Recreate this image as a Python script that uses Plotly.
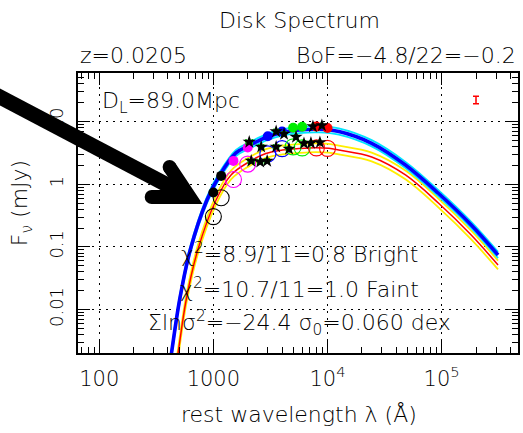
import plotly.graph_objects as go

# ---- model curves: rest wavelength (Angstrom) vs F_nu (mJy) ----
bright_wave = [400, 430, 506, 627, 879, 1140, 1578, 2062, 2960, 4000, 5625, 8410,
               12570, 24380, 48200, 93600, 181600, 312000]
bright_flux = [0.000814, 0.00204, 0.0143, 0.0896, 0.562, 1.41, 3.16, 4.16, 5.68, 6.70,
               7.35, 7.54, 6.95, 4.51, 2.03, 0.719, 0.2245, 0.0745]
faint_wave = [455, 491, 578, 730, 1056, 1428, 2062, 2884, 4024, 5625, 7871, 10280,
              12570, 24380, 48200, 93600, 181600, 312000]
faint_flux = [0.000814, 0.00204, 0.0143, 0.0896, 0.562, 1.41, 2.29, 3.10, 3.52, 3.72,
              3.84, 3.75, 3.52, 2.73, 1.41, 0.503, 0.155, 0.0516]
bright_band_dex = 0.05   # half-width of the cyan envelope
faint_band_dex = 0.07    # half-width of the yellow envelope

# ---- photometry ----
phot_wave = [1000, 1170, 1500, 2000, 3000, 4000, 5000, 6000, 8000, 10000]
phot_colors = ["black", "black", "#ff00ff", "#ff00ff", "#0000ff", "#0000ff",
               "#00ee00", "#00ee00", "#ff0000", "#ff0000"]
bright_obs = [0.738, 1.36, 2.36, 3.85, 5.85, 6.93, 8.00, 8.26, 8.32, 7.88]
faint_obs = [0.305, 0.61, 1.19, 2.10, 3.05, 3.70, 3.95, 3.81, 3.81, 3.74]

# ---- spectral points (stars) with wavelength half-ranges ----
star_wave = [2062, 2624, 3548, 4162, 5300, 7452, 8930,
             3548, 4603, 6222, 7160, 8580,
             2147, 2571, 2960]
star_flux = [4.73, 3.94, 6.95, 6.34, 5.68, 8.35, 8.67,
             3.94, 3.66, 4.48, 4.56, 4.65,
             2.35, 2.27, 2.35]
star_halfwidth = [130, 130, 150, 150, 150, 150, 150,
                  180, 180, 150, 150, 150,
                  130, 130, 130]

# ---- typical error ----
err_wave = [2.0e5]
err_flux = [22.1]
sigma0_dex = 0.060

fig = go.Figure()

def scaled(vals, dex):
    return [v * 10 ** dex for v in vals]

# envelopes first, then the best fits
for w, f, band, c in [(faint_wave, faint_flux, faint_band_dex, "#ffee00"),
                      (bright_wave, bright_flux, bright_band_dex, "#00e5ff")]:
    for s in (1, -1):
        fig.add_trace(go.Scatter(x=w, y=scaled(f, s * band), mode="lines",
                                 line=dict(color=c, width=1.8, shape="spline"),
                                 hoverinfo="skip"))
fig.add_trace(go.Scatter(x=faint_wave, y=faint_flux, mode="lines",
                         line=dict(color="#ff0000", width=1.5, shape="spline")))
fig.add_trace(go.Scatter(x=bright_wave, y=bright_flux, mode="lines",
                         line=dict(color="#0000ff", width=3.6, shape="spline")))

# faint state: open circles
fig.add_trace(go.Scatter(x=phot_wave, y=faint_obs, mode="markers",
                         marker=dict(symbol="circle-open", size=16, color=phot_colors,
                                     line=dict(width=1.1, color=phot_colors))))
# bright state: filled circles
fig.add_trace(go.Scatter(x=phot_wave, y=bright_obs, mode="markers",
                         marker=dict(symbol="circle", size=10, color=phot_colors,
                                     line=dict(width=0))))
# stars with green wavelength bars
fig.add_trace(go.Scatter(x=star_wave, y=star_flux, mode="markers",
                         marker=dict(symbol="star", size=10, color="black",
                                     line=dict(width=0)),
                         error_x=dict(type="data", array=star_halfwidth, color="#00dd00",
                                      thickness=1.5, width=3)))
# typical error bar
up = [f * (10 ** sigma0_dex - 1) for f in err_flux]
dn = [f * (1 - 10 ** -sigma0_dex) for f in err_flux]
fig.add_trace(go.Scatter(x=err_wave, y=err_flux, mode="markers",
                         marker=dict(size=1, color="red"),
                         error_y=dict(type="data", symmetric=False, array=up, arrayminus=dn,
                                      color="red", thickness=1.5, width=3)))

font = "DejaVu Sans"
weight = 300
x_minor = [m * 10 ** d for d in range(1, 6) for m in range(2, 10)]
y_minor = [m * 10 ** d for d in range(-3, 2) for m in range(2, 10)]

axis_common = dict(type="log", showline=True, linecolor="black", linewidth=1.6,
                   mirror="allticks", ticks="inside", ticklen=12, tickwidth=1.2,
                   tickcolor="black", showgrid=True, gridcolor="black", gridwidth=1.3,
                   griddash="2px,5px", zeroline=False, tickmode="array")

fig.update_xaxes(range=[1.814, 5.669], tickvals=[100, 1000, 1e4, 1e5],
                 ticktext=["100", "1000", "10<sup>4</sup>", "10<sup>5</sup>"],
                 tickfont=dict(family=font, size=21, color="black", weight=weight),
                 ticklabelstandoff=6,
                 minor=dict(tickmode="array", tickvals=x_minor, ticks="inside",
                            ticklen=6, tickwidth=1.2, tickcolor="black", showgrid=False),
                 **axis_common)
fig.update_yaxes(range=[-2.691, 1.775], tickvals=[0.01, 0.1, 1, 10],
                 ticktext=["0.01", "0.1", "1", "10"], tickangle=-90,
                 tickfont=dict(family=font, size=18, color="black", weight=weight),
                 ticklabelstandoff=6,
                 minor=dict(tickmode="array", tickvals=y_minor, ticks="inside",
                            ticklen=6, tickwidth=1.2, tickcolor="black", showgrid=False),
                 **axis_common)

def ann(text, x, y, size=22, xanchor="center", angle=0):
    fig.add_annotation(text=text, x=x, y=y, xref="paper", yref="paper",
                       xanchor=xanchor, yanchor="middle", showarrow=False,
                       textangle=angle,
                       font=dict(family=font, size=size, color="black", weight=weight))

ann("Disk Spectrum", 0.5023, 1.189)
ann("z=0.0205", 0.0, 1.061, xanchor="left")
ann("BoF=\u22124.8/22=\u22120.2", 1.0, 1.061, xanchor="right")
ann("D<sub>L</sub>=89.0Mpc", 0.0498, 0.893, xanchor="left")
ann("\u03c7<sup>2</sup>=8.9/11=0.8 Bright", 0.5023, 0.357)
ann("\u03c7<sup>2</sup>=10.7/11=1.0 Faint", 0.5023, 0.232)
ann("\u03a3ln\u03c3<sup>2</sup>=\u221224.4 \u03c3<sub>0</sub>=0.060 dex", 0.5023, 0.107)
ann("rest wavelength \u03bb (\u00c5)", 0.5023, -0.221)
ann("F<sub>\u03bd</sub> (mJy)", -0.1267, 0.536, angle=-90)

# pointer arrow (paper coordinates)
def P(px, py):
    return (px - 78) / 442, (353 - py) / 280

sx, sy = P(-10, 92)
ex, ey = P(183, 193)
tx, ty = P(190, 197)
ux, uy = P(170, 167)
lx, ly = P(152, 197)
fig.add_shape(type="path", xref="paper", yref="paper", layer="above",
              path=f"M{sx},{sy} L{ex},{ey}", line=dict(color="black", width=15))
fig.add_shape(type="path", xref="paper", yref="paper", layer="above",
              path=f"M{ux},{uy} L{tx},{ty} L{lx},{ly}", line=dict(color="black", width=14))
for cx, cy in [(ux, uy), (lx, ly)]:
    rx, ry = 7 / 442, 7 / 280
    fig.add_shape(type="circle", xref="paper", yref="paper", layer="above",
                  x0=cx - rx, x1=cx + rx, y0=cy - ry, y1=cy + ry,
                  fillcolor="black", line=dict(width=0))

fig.update_layout(width=523, height=433, margin=dict(l=78, r=3, t=73, b=80),
                  paper_bgcolor="white", plot_bgcolor="white", showlegend=False,
                  font=dict(family=font, color="black", weight=weight))

fig.write_html("out.html")
